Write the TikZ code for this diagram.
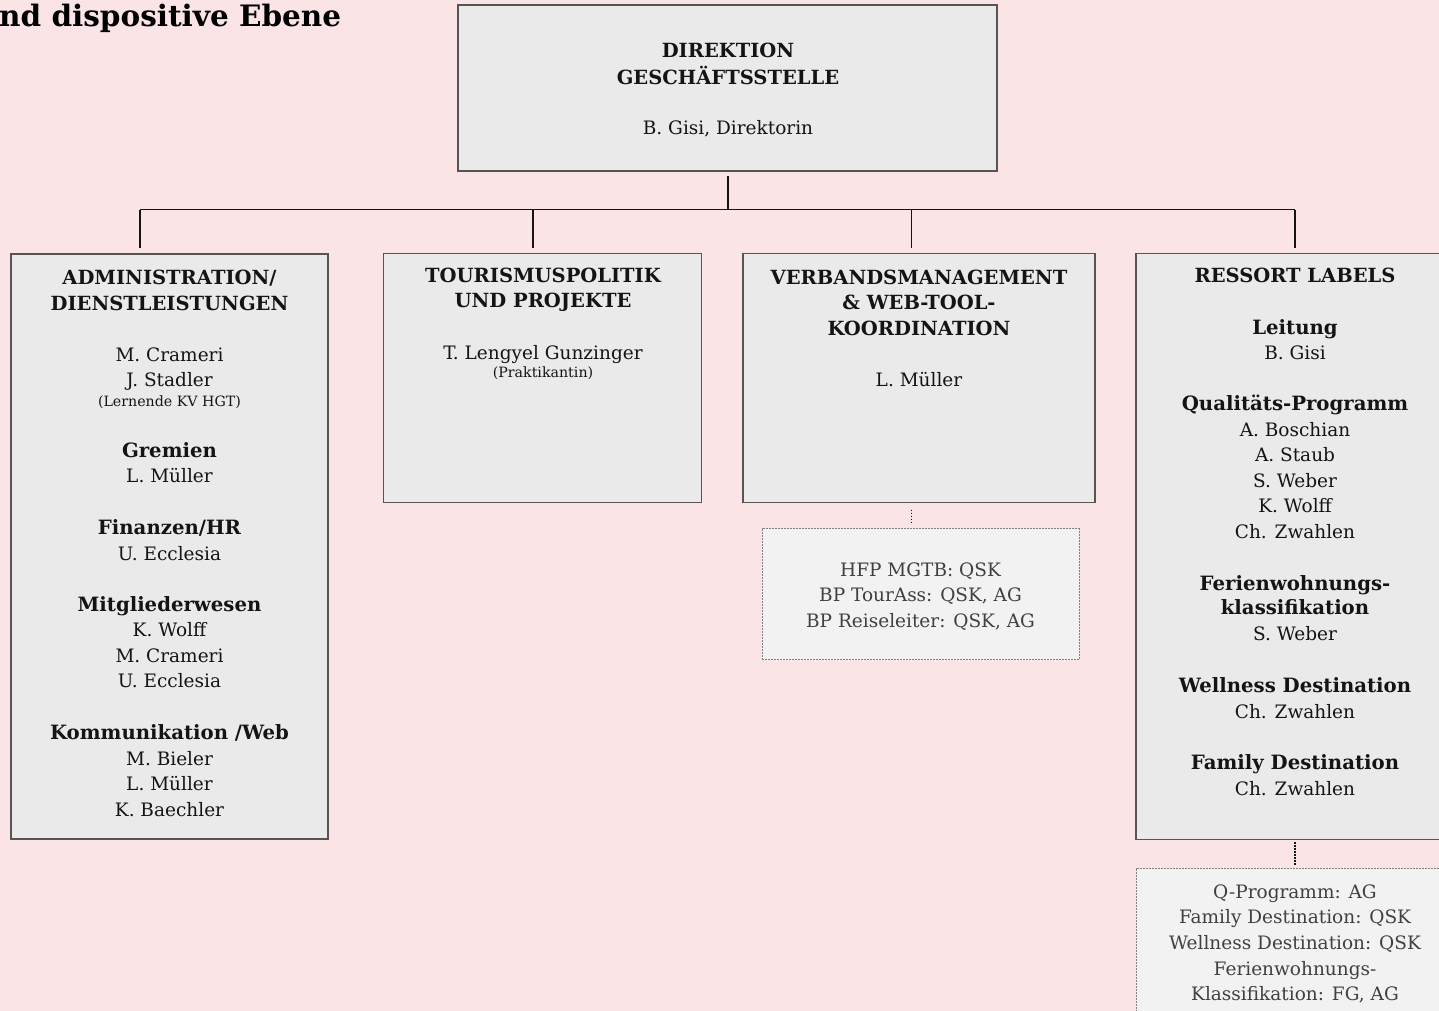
\documentclass[tikz,border=0pt]{standalone}
\usepackage{fontspec}
\setmainfont{DejaVu Serif}
\definecolor{bg}{RGB}{250,228,230}
\definecolor{boxfill}{RGB}{234,234,234}
\definecolor{notefill}{RGB}{242,242,242}
\definecolor{boxline}{RGB}{85,85,85}
\definecolor{ink}{RGB}{20,20,20}
\definecolor{notetext}{RGB}{64,64,64}
\definecolor{noteline}{RGB}{130,130,130}
\begin{document}
\begin{tikzpicture}[x=1pt,y=-1pt,
  orgbox/.style={draw=boxline, line width=1.1pt, fill=boxfill, rectangle, inner sep=0pt, outer sep=0pt, anchor=north west},
  notebox/.style={draw=noteline, line width=0.8pt, dash pattern=on 2pt off 1pt, fill=notefill, rectangle, inner sep=0pt, outer sep=0pt, anchor=north west},
  conn/.style={draw=ink, line width=1.7pt},
  dotconn/.style={draw=ink, line width=1.2pt, dash pattern=on 1.5pt off 1.5pt},
  txt/.style={anchor=base, inner sep=0pt, text=ink},
  hd/.style={txt, font=\bfseries\fontsize{19.5}{20}\selectfont},
  sec/.style={txt, font=\bfseries\fontsize{19.7}{21}\selectfont},
  nm/.style={txt, font=\fontsize{18.5}{20}\selectfont},
  sm/.style={txt, font=\fontsize{14.2}{15}\selectfont},
  nt/.style={txt, text=notetext, font=\fontsize{18.5}{20}\selectfont},
  ttl/.style={anchor=base west, inner sep=0pt, text=black, font=\bfseries\fontsize{29.5}{30}\selectfont}
]
\useasboundingbox (0,0) rectangle (1439,1011);
\clip (0,0) rectangle (1439,1011);
\fill[bg] (0,0) rectangle (1439,1011);

% title (cut at left edge)
\node[ttl] (title) at (-1,27) {nd dispositive Ebene};

% boxes
\node[orgbox, minimum width=539pt, minimum height=166pt] (top) at (458,5) {};
\node[orgbox, minimum width=317pt, minimum height=585pt] (b1) at (11,254) {};
\node[orgbox, minimum width=318pt, minimum height=249pt] (b2) at (383.5,253.5) {};
\node[orgbox, minimum width=352pt, minimum height=249pt] (b3) at (743,253.5) {};
\node[orgbox, minimum width=318pt, minimum height=586pt] (b4) at (1136,253.5) {};
\node[notebox, minimum width=317pt, minimum height=131pt] (n3) at (762,528.5) {};
\node[notebox, minimum width=318pt, minimum height=180pt] (n4) at (1136,868.5) {};

% connectors
\coordinate (hub) at (728,209.5);
\coordinate (j1) at (140,209.5);
\coordinate (j2) at (533,209.5);
\coordinate (j3) at (911.5,209.5);
\coordinate (j4) at (1295,209.5);
\draw[conn, shorten <=5pt] (top.south -| hub) -- (hub);
\draw[conn] (j1) -- (j4);
\draw[conn, shorten >=6pt] (j1) -- (j1 |- b1.north);
\draw[conn, shorten >=6pt] (j2) -- (j2 |- b2.north);
\draw[conn, shorten >=6pt] (j3) -- (j3 |- b3.north);
\draw[conn, shorten >=6pt] (j4) -- (j4 |- b4.north);
\draw[dotconn, shorten <=7pt, shorten >=4pt] (j3 |- b3.south) -- (j3 |- n3.north);
\draw[dotconn, shorten <=2.5pt, shorten >=3pt] (j4 |- b4.south) -- (j4 |- n4.north);

% top box text
\node[hd] (t1) at (728,57.7) {DIREKTION};
\node[hd] (t2) at (728,84.3) {GESCHÄFTSSTELLE};
\node[nm] (t3) at (728,134.3) {B. Gisi, Direktorin};

% box 1
\node[hd] (a1) at (169.5,284.3) {ADMINISTRATION/};
\node[hd] (a2) at (169.5,310) {DIENSTLEISTUNGEN};
\node[nm] (a3) at (169.5,361) {M. Crameri};
\node[nm] (a4) at (169.5,386.7) {J. Stadler};
\node[sm] (a5) at (169.5,406.5) {(Lernende KV HGT)};
\node[sec] (a6) at (169.5,457.3) {Gremien};
\node[nm] (a7) at (169.5,482.7) {L. Müller};
\node[sec] (a8) at (169.5,534.3) {Finanzen/HR};
\node[nm] (a9) at (169.5,560) {U. Ecclesia};
\node[sec] (a10) at (169.5,611) {Mitgliederwesen};
\node[nm] (a11) at (169.5,636.7) {K. Wolff};
\node[nm] (a12) at (169.5,662.3) {M. Crameri};
\node[nm] (a13) at (169.5,687.7) {U. Ecclesia};
\node[sec] (a14) at (169.5,739) {Kommunikation /Web};
\node[nm] (a15) at (169.5,765) {M. Bieler};
\node[nm] (a16) at (169.5,790) {L. Müller};
\node[nm] (a17) at (169.5,816) {K. Baechler};

% box 2
\node[hd] (p1) at (543,282) {TOURISMUSPOLITIK};
\node[hd] (p2) at (543,307) {UND PROJEKTE};
\node[nm] (p3) at (543,359) {T. Lengyel Gunzinger};
\node[sm] (p4) at (543,377.5) {(Praktikantin)};

% box 3
\node[hd] (v1) at (919,284) {VERBANDSMANAGEMENT};
\node[hd] (v2) at (919,309.5) {\& WEB-TOOL-};
\node[hd] (v3) at (919,335) {KOORDINATION};
\node[nm] (v4) at (919,386) {L. Müller};

% note 3
\node[nt] (m1) at (920.5,576.7) {HFP MGTB: QSK};
\node[nt] (m2) at (920.5,601.7) {BP TourAss: QSK, AG};
\node[nt] (m3) at (920.5,627.7) {BP Reiseleiter: QSK, AG};

% box 4
\node[hd] (r1) at (1295,282) {RESSORT LABELS};
\node[sec] (r2) at (1295,334) {Leitung};
\node[nm] (r3) at (1295,359) {B. Gisi};
\node[sec] (r4) at (1295,410) {Qualitäts-Programm};
\node[nm] (r5) at (1295,436) {A. Boschian};
\node[nm] (r6) at (1295,461.5) {A. Staub};
\node[nm] (r7) at (1295,487) {S. Weber};
\node[nm] (r8) at (1295,512.5) {K. Wolff};
\node[nm] (r9) at (1295,538) {Ch. Zwahlen};
\node[sec] (r10) at (1295,590) {Ferienwohnungs-};
\node[sec] (r11) at (1295,614.5) {klassifikation};
\node[nm] (r12) at (1295,640.5) {S. Weber};
\node[sec] (r13) at (1295,692) {Wellness Destination};
\node[nm] (r14) at (1295,718) {Ch. Zwahlen};
\node[sec] (r15) at (1295,769.5) {Family Destination};
\node[nm] (r16) at (1295,795) {Ch. Zwahlen};

% note 4
\node[nt] (q1) at (1295,898) {Q-Programm: AG};
\node[nt] (q2) at (1295,923.5) {Family Destination: QSK};
\node[nt] (q3) at (1295,949) {Wellness Destination: QSK};
\node[nt] (q4) at (1295,975) {Ferienwohnungs-};
\node[nt] (q5) at (1295,1000) {Klassifikation: FG, AG};
\end{tikzpicture}
\end{document}
